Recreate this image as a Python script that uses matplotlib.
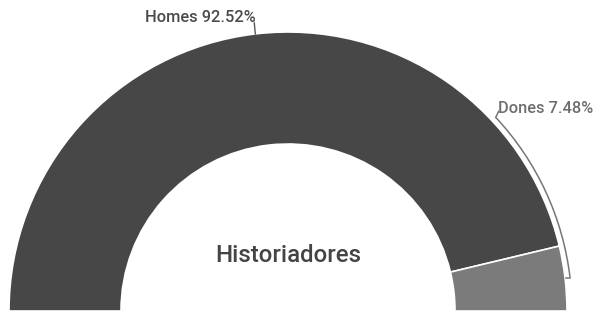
import matplotlib
matplotlib.use("Agg")
import matplotlib.pyplot as plt
from matplotlib.patches import Arc
import numpy as np

categories = ["Homes", "Dones"]
values = [92.52, 7.48]
colors = ["#474747", "#7b7b7b"]
title = "Historiadores"

W, H = 594, 315
fig = plt.figure(figsize=(W / 100, H / 100), dpi=100)
ax = fig.add_axes([0, 0, 1, 1])
plt.rcParams['font.family'] = ['Roboto', 'DejaVu Sans']

cx, cy = 288, H - 311
R = 279
ring = 112

wedges, _ = ax.pie(values + [sum(values)], colors=colors + ["none"], startangle=180,
                   counterclock=False, radius=R, center=(cx, cy),
                   wedgeprops=dict(width=ring, edgecolor="white", linewidth=1.2))
wedges[-1].set_visible(False)

ax.set_xlim(0, W)
ax.set_ylim(0, H)
ax.set_aspect("equal")
ax.axis("off")

total = sum(values)
a_b = 180 * values[1] / total
mid0 = a_b + (180 - a_b) / 2
mid1 = a_b / 2

# Homes label
x0 = cx + R * np.cos(np.radians(mid0))
y0 = cy + R * np.sin(np.radians(mid0))
ax.plot([x0, x0 - 1], [y0, y0 + 11], color="#555555", lw=1)
ax.text(x0, y0 + 16, f"{categories[0]} {values[0]:.2f}%", ha="right", va="center",
        fontsize=11.8, color="#4a4a4a", fontweight="medium")

# Dones label with curved leader
rb = R + 5
a_end = 43
arc = Arc((cx, cy), 2 * rb, 2 * rb, theta1=mid1, theta2=a_end, color="#777777", lw=1.1)
ax.add_patch(arc)
xs = cx + rb * np.cos(np.radians(mid1))
ys = cy + rb * np.sin(np.radians(mid1))
ax.plot([xs, xs - 4], [ys, ys], color="#777777", lw=1.1)
xe = cx + rb * np.cos(np.radians(a_end))
ye = cy + rb * np.sin(np.radians(a_end))
ax.plot([xe, xe + 3], [ye, ye + 6], color="#777777", lw=1.1)
ax.text(xe + 2, ye + 9, f"{categories[1]} {values[1]:.2f}%", ha="left", va="center",
        fontsize=11.8, color="#6e6e6e", fontweight="medium")

ax.text(cx, H - 256, title, ha="center", va="center", fontsize=17.3, color="#444444",
        fontweight="medium")

fig.savefig("out.png", dpi=100)
